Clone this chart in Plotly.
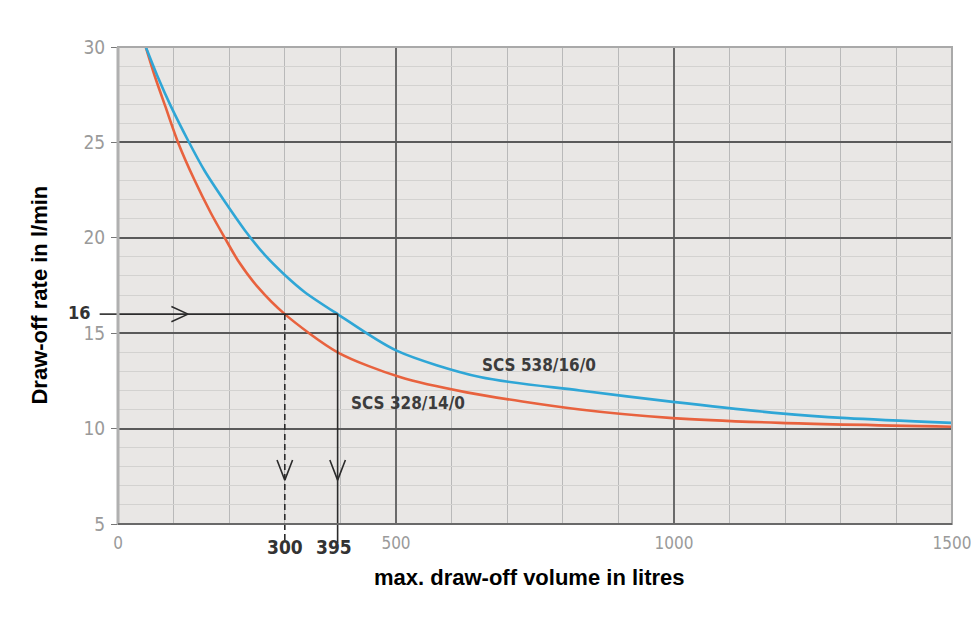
import plotly.graph_objects as go

# ---- data ----
blue_name = "SCS 538/16/0"
blue_x = [50, 72, 95, 126, 156, 192, 228, 264, 300, 336, 395, 500, 651, 831, 998, 1191, 1311, 1500]
blue_y = [30, 28.4, 26.9, 25.1, 23.5, 21.9, 20.4, 19.1, 18.05, 17.15, 16.0, 14.1, 12.7, 12.0, 11.4, 10.8, 10.55, 10.3]

orange_name = "SCS 328/14/0"
orange_x = [50, 67, 85, 108, 138, 167, 192, 216, 252, 300, 395, 507, 627, 831, 998, 1191, 1500]
orange_y = [30, 28.4, 26.9, 25.0, 23.0, 21.3, 20.0, 18.8, 17.4, 16.0, 14.0, 12.7, 11.9, 11.0, 10.55, 10.3, 10.1]

rate_mark = 16
vol_orange = 300
vol_blue = 395

x_ticks = [0, 500, 1000, 1500]
y_ticks = [5, 10, 15, 20, 25, 30]
x_range = [0, 1500]
y_range = [5, 30]

x_title = "max. draw-off volume in litres"
y_title = "Draw-off rate in l/min"

NARROW = "Liberation Sans Narrow, DejaVu Sans Condensed, Liberation Sans, Arial"
BOLD = "Liberation Sans, Arial, sans-serif"

fig = go.Figure()

fig.add_trace(go.Scatter(x=orange_x, y=orange_y, mode="lines",
                         line=dict(color="#e8623e", width=2.6, shape="spline", smoothing=0.8),
                         hoverinfo="skip", showlegend=False))
fig.add_trace(go.Scatter(x=blue_x, y=blue_y, mode="lines",
                         line=dict(color="#2fa6d6", width=2.6, shape="spline", smoothing=0.8),
                         hoverinfo="skip", showlegend=False))

dark = "#2b2b2b"
# horizontal guide at 16
fig.add_shape(type="line", xref="x", yref="y", x0=x_range[0], x1=vol_blue, y0=rate_mark, y1=rate_mark,
              line=dict(color=dark, width=1.6))
fig.add_shape(type="line", xref="paper", yref="y", x0=-0.022, x1=0, y0=rate_mark, y1=rate_mark,
              line=dict(color=dark, width=1.6))
# vertical guides
fig.add_shape(type="line", xref="x", yref="y", x0=vol_orange, x1=vol_orange, y0=rate_mark, y1=y_range[0],
              line=dict(color=dark, width=1.6, dash="6px,4px"))
fig.add_shape(type="line", xref="x", yref="paper", x0=vol_orange, x1=vol_orange, y0=0, y1=-0.04,
              line=dict(color=dark, width=1.6, dash="6px,4px"))
fig.add_shape(type="line", xref="x", yref="y", x0=vol_blue, x1=vol_blue, y0=rate_mark, y1=y_range[0],
              line=dict(color=dark, width=1.6))
fig.add_shape(type="line", xref="x", yref="paper", x0=vol_blue, x1=vol_blue, y0=0, y1=-0.04,
              line=dict(color=dark, width=1.6))

# open chevron arrowheads
def chevron_h(tip_x, y, dx=30, dy=0.4):
    return [tip_x - dx, tip_x, tip_x - dx], [y + dy, y, y - dy]

def chevron_v(x, tip_y, dx=14, dy=1.05):
    return [x - dx, x, x + dx], [tip_y + dy, tip_y, tip_y + dy]

for cx, cy in [chevron_h(126, rate_mark), chevron_v(vol_orange, 7.3), chevron_v(vol_blue, 7.3)]:
    fig.add_trace(go.Scatter(x=cx, y=cy, mode="lines", line=dict(color=dark, width=1.6),
                             hoverinfo="skip", showlegend=False))

# borders
fig.add_shape(type="rect", xref="x domain", yref="y domain", x0=0, x1=1, y0=0, y1=1,
              line=dict(color="#a9a9a9", width=2), layer="above")
fig.add_shape(type="line", xref="x domain", yref="y domain", x0=0, x1=0, y0=0, y1=1,
              line=dict(color="#b0b0b0", width=3), layer="above")
fig.add_shape(type="line", xref="x domain", yref="y domain", x0=0, x1=1, y0=0, y1=0,
              line=dict(color="#555555", width=1.6), layer="above")

# labels
lab_font = dict(family=NARROW, size=17, color="#3c3c3c")
fig.add_annotation(x=757, y=13.35, xref="x", yref="y", text="<b>" + blue_name + "</b>",
                   showarrow=False, font=lab_font)
fig.add_annotation(x=521, y=11.35, xref="x", yref="y", text="<b>" + orange_name + "</b>",
                   showarrow=False, font=lab_font)

num_font = dict(family=NARROW, size=19, color="#333333")
fig.add_annotation(x=-0.062, y=rate_mark + 0.1, xref="paper", yref="y", text="<b>%d</b>" % rate_mark,
                   showarrow=False, font=dict(family=NARROW, size=18, color="#333333"))
fig.add_annotation(x=vol_orange, y=-0.076, xref="x", yref="paper", text="<b>%d</b>" % vol_orange,
                   showarrow=False, font=num_font)
fig.add_annotation(x=vol_blue - 6, y=-0.076, xref="x", yref="paper", text="<b>%d</b>" % vol_blue,
                   showarrow=False, font=num_font)

# axis titles
fig.add_annotation(x=-0.1115, y=0.48, xref="paper", yref="paper", text="<b>" + y_title + "</b>",
                   textangle=-90, showarrow=False, font=dict(family=BOLD, size=22, color="#000000"))
fig.add_annotation(x=0.493, y=-0.1426, xref="paper", yref="paper", text="<b>" + x_title + "</b>",
                   showarrow=False, font=dict(family=BOLD, size=22, color="#000000"))

fig.update_xaxes(range=x_range, tickvals=x_ticks, ticktext=[str(v) for v in x_ticks],
                 showgrid=True, gridcolor="#6a6a6a", gridwidth=2,
                 minor=dict(dtick=100, tick0=0, showgrid=True, gridcolor="#b9b9b9", gridwidth=1),
                 zeroline=False, showline=False, ticks="",
                 tickfont=dict(family=NARROW, size=17, color="#9a9a9a"), ticklabelstandoff=7)
fig.update_yaxes(range=y_range, tickvals=y_ticks, ticktext=[str(v) for v in y_ticks],
                 showgrid=True, gridcolor="#5a5a5a", gridwidth=1.5,
                 minor=dict(dtick=1, tick0=0, showgrid=True, gridcolor="#d3d2d0", gridwidth=1),
                 zeroline=False, showline=False, ticks="outside", ticklen=6, tickcolor="#777777",
                 tickfont=dict(family=NARROW, size=19, color="#9a9a9a"), ticklabelstandoff=2)

# the page adds an 8px body margin, so margins are offset by 8px
fig.update_layout(width=979, height=623, autosize=False,
                  margin=dict(l=110, r=35, t=39, b=107),
                  paper_bgcolor="#ffffff", plot_bgcolor="#e9e7e5",
                  showlegend=False)

fig.write_html("out.html")
